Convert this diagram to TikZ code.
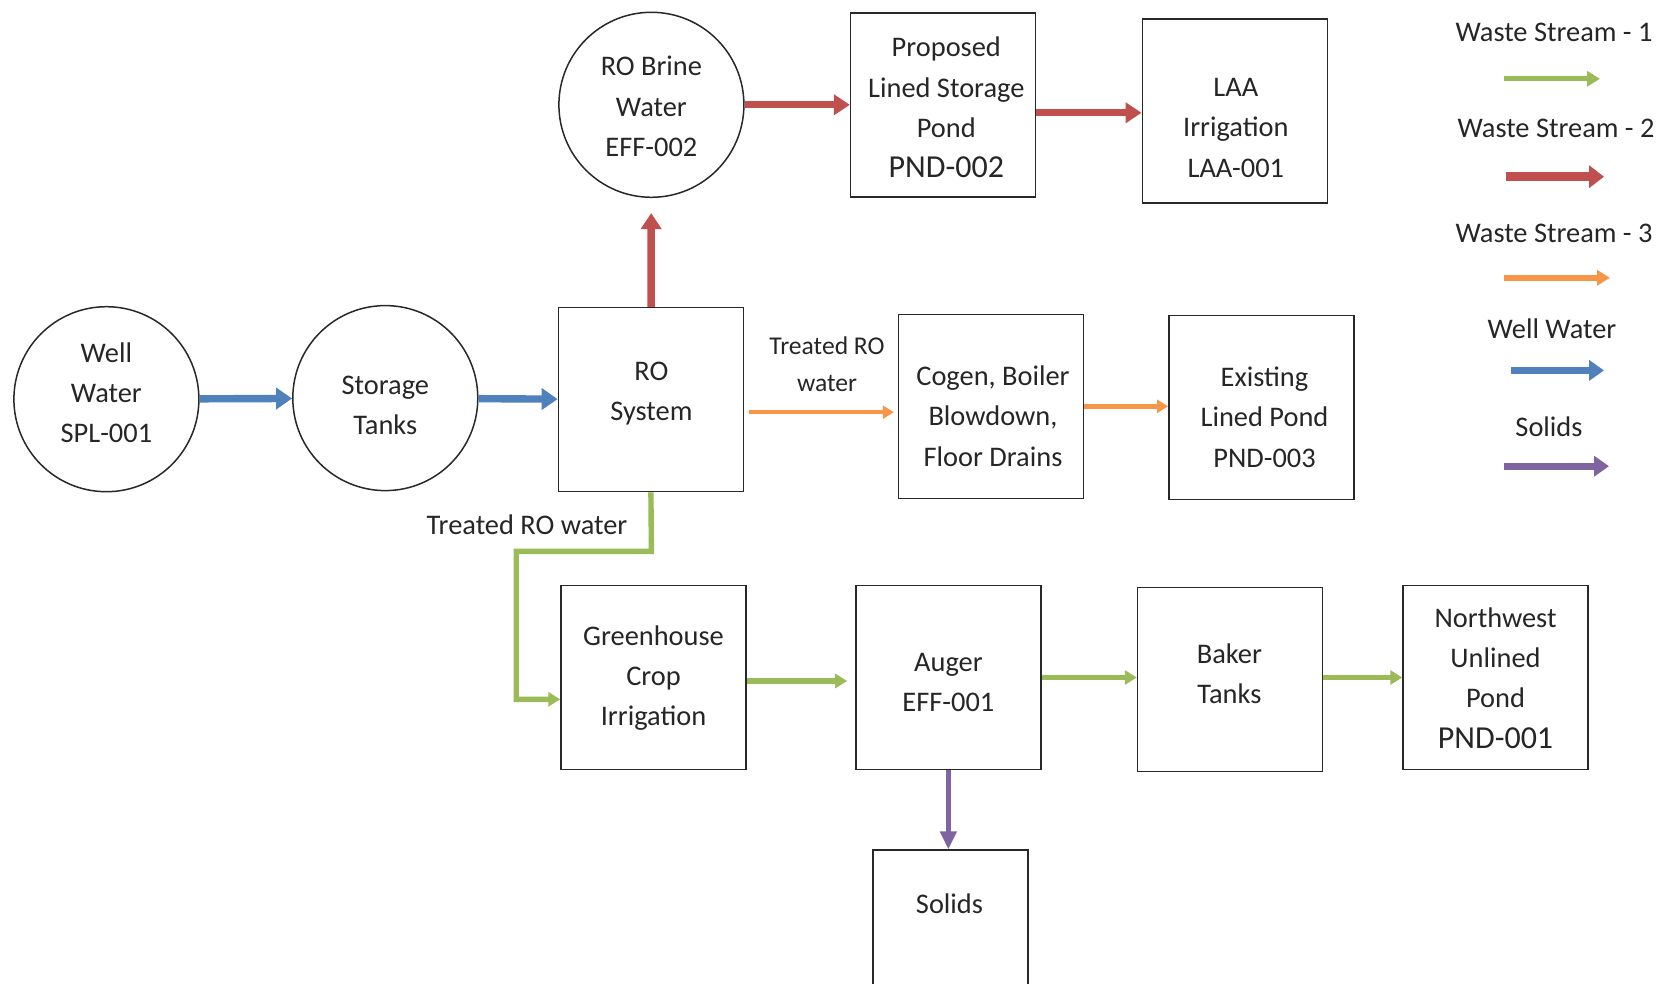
\documentclass[tikz,border=0pt]{standalone}
\usepackage{fontspec}
\setmainfont{Carlito}
\usetikzlibrary{arrows.meta,calc}
\definecolor{wsgreen}{RGB}{155,187,89}
\definecolor{wsred}{RGB}{192,80,77}
\definecolor{wsorange}{RGB}{247,150,70}
\definecolor{wsblue}{RGB}{79,129,189}
\definecolor{wspurple}{RGB}{128,100,162}
\definecolor{edge}{RGB}{40,40,40}
\begin{document}
\begin{tikzpicture}[x=0.5pt,y=-0.5pt,
  box/.style={draw=edge, line width=0.75pt, minimum width=92.5pt, minimum height=92pt, inner sep=0pt},
  circ/.style={draw=edge, line width=0.75pt, circle, minimum size=92.5pt, inner sep=0pt},
  txt/.style={align=center, inner sep=0pt, text=black!85, font=\fontsize{14.2}{20.2}\selectfont},
  small/.style={align=center, inner sep=0pt, text=black!85, font=\fontsize{12.8}{18.6}\selectfont},
  fblue/.style={draw=wsblue, line width=3.7pt, -{Triangle[width=10.5pt,length=8pt]}},
  fred/.style={draw=wsred, line width=3.7pt, -{Triangle[width=10pt,length=8pt]}},
  forange/.style={draw=wsorange, line width=2.2pt, -{Triangle[width=6.5pt,length=5.5pt]}},
  fgreen/.style={draw=wsgreen, line width=2.7pt, -{Triangle[width=7pt,length=6pt]}},
  fpurple/.style={draw=wspurple, line width=2.7pt, -{Triangle[width=8pt,length=9pt]}},
  lgreen/.style={draw=wsgreen, line width=2.7pt, -{Triangle[width=7.5pt,length=6.5pt]}},
  lred/.style={draw=wsred, line width=4.6pt, -{Triangle[width=11pt,length=7.5pt]}},
  lorange/.style={draw=wsorange, line width=2.7pt, -{Triangle[width=7.5pt,length=6.5pt]}},
  lblue/.style={draw=wsblue, line width=3.7pt, -{Triangle[width=10pt,length=7.5pt]}},
  lpurple/.style={draw=wspurple, line width=3.7pt, -{Triangle[width=10pt,length=7.5pt]}},
]
\fill[white] (0,0) rectangle (1669,984);
\clip (0,0) rectangle (1669,984);

% shapes
\node[circ] (well) at (106.4,399.2) {};
\node[circ] (stor) at (385.3,398.1) {};
\node[box] (ro) at (650.9,399.7) {};
\node[circ] (brine) at (651.4,104.8) {};
\node[box] (prop) at (943.1,104.8) {};
\node[box] (laa) at (1234.8,111.2) {};
\node[box] (cogen) at (991.0,406.3) {};
\node[box] (exist) at (1261.3,407.5) {};
\node[box] (green) at (653.5,677.5) {};
\node[box] (auger) at (948.4,677.5) {};
\node[box] (baker) at (1230.0,679.6) {};
\node[box] (nw) at (1495.5,677.5) {};
\node[box, minimum width=77.7pt, minimum height=100pt, anchor=north] (solids) at (950.5,849.4) {};

% texts
\node[txt] (wellT) at (106.4,392.8) {Well\\Water\\SPL-001};
\node[txt] (storT) at (385.3,405.5) {Storage\\Tanks};
\node[txt] (roT) at (651.4,393.8) {RO\\System};
\node[txt] (brineT) at (651.4,106.4) {RO Brine\\Water\\EFF-002};
\node[txt] (propT) at (946.3,107.5) {Proposed\\Lined Storage\\Pond\\{\fontsize{16}{16}\selectfont PND-002}};
\node[txt] (laaT) at (1235.8,127.7) {LAA\\Irrigation\\LAA-001};
\node[txt] (cogenT) at (993.0,416.2) {Cogen, Boiler\\Blowdown,\\Floor Drains};
\node[txt] (existT) at (1264.5,417.2) {Existing\\Lined Pond\\PND-003};
\node[txt] (greenT) at (653.5,678.0) {Greenhouse\\Crop\\Irrigation};
\node[txt] (augerT) at (948.4,682.3) {Auger\\EFF-001};
\node[txt] (bakerT) at (1229.4,673.8) {Baker\\Tanks};
\node[txt] (nwT) at (1495.5,678.0) {Northwest\\Unlined\\Pond\\{\fontsize{16}{16}\selectfont PND-001}};
\node[txt] (solidsT) at (949.5,903.7) {Solids};
\node[small] (lbl1) at (827.0,364.0) {Treated RO\\water};
\node[txt] (lbl2) at (527.0,524.8) {Treated RO water};

% connectors
\draw[fblue] (well) -- (stor);
\draw[fblue] (stor) -- (ro);
\draw[fred, shorten >=7.5pt] (ro) -- (brine);
\draw[fred] (brine) -- (prop);
\coordinate (p1) at ($(prop.east)+(0,8)$);
\draw[fred] (p1) -- (laa.west |- p1);
\coordinate (o1) at ($(ro.east)+(0,12.5)$);
\draw[forange, shorten <=2.5pt, shorten >=2pt] (o1) -- (cogen.west |- o1);
\draw[forange] (cogen.east) -- (exist.west |- cogen.east);
\coordinate (g1) at (651.4,551.4);
\coordinate (g2) at (516.2,551.4);
\coordinate (g3) at (516.2,699.3);
\draw[fgreen] (ro.south) -- (g1) -- (g2) -- (g3) -- (green.west |- g3);
\coordinate (g4) at ($(green.east)+(0,3.5)$);
\draw[fgreen, shorten >=4pt] (g4) -- (auger.west |- g4);
\draw[fgreen] (auger.east) -- (baker.west |- auger.east);
\draw[fgreen] (baker.east |- nw.west) -- (nw.west);
\draw[fpurple] (auger.south) -- (auger.south |- solids.north);

% legend
\node[txt] (lt1) at (1554,32) {Waste Stream - 1};
\node[txt] (lt2) at (1556,128.8) {Waste Stream - 2};
\node[txt] (lt3) at (1554,233) {Waste Stream - 3};
\node[txt] (lt4) at (1552,329) {Well Water};
\node[txt] (lt5) at (1549,427) {Solids};
\coordinate (la1) at (1504,78.8);  \coordinate (lb1) at (1600,78.8);
\coordinate (la2) at (1506,176.7); \coordinate (lb2) at (1604,176.7);
\coordinate (la3) at (1504,277.8); \coordinate (lb3) at (1610,277.8);
\coordinate (la4) at (1511,370.4); \coordinate (lb4) at (1604,370.4);
\coordinate (la5) at (1504,466.2); \coordinate (lb5) at (1609,466.2);
\draw[lgreen] (la1) -- (lb1);
\draw[lred] (la2) -- (lb2);
\draw[lorange] (la3) -- (lb3);
\draw[lblue] (la4) -- (lb4);
\draw[lpurple] (la5) -- (lb5);
\end{tikzpicture}
\end{document}
